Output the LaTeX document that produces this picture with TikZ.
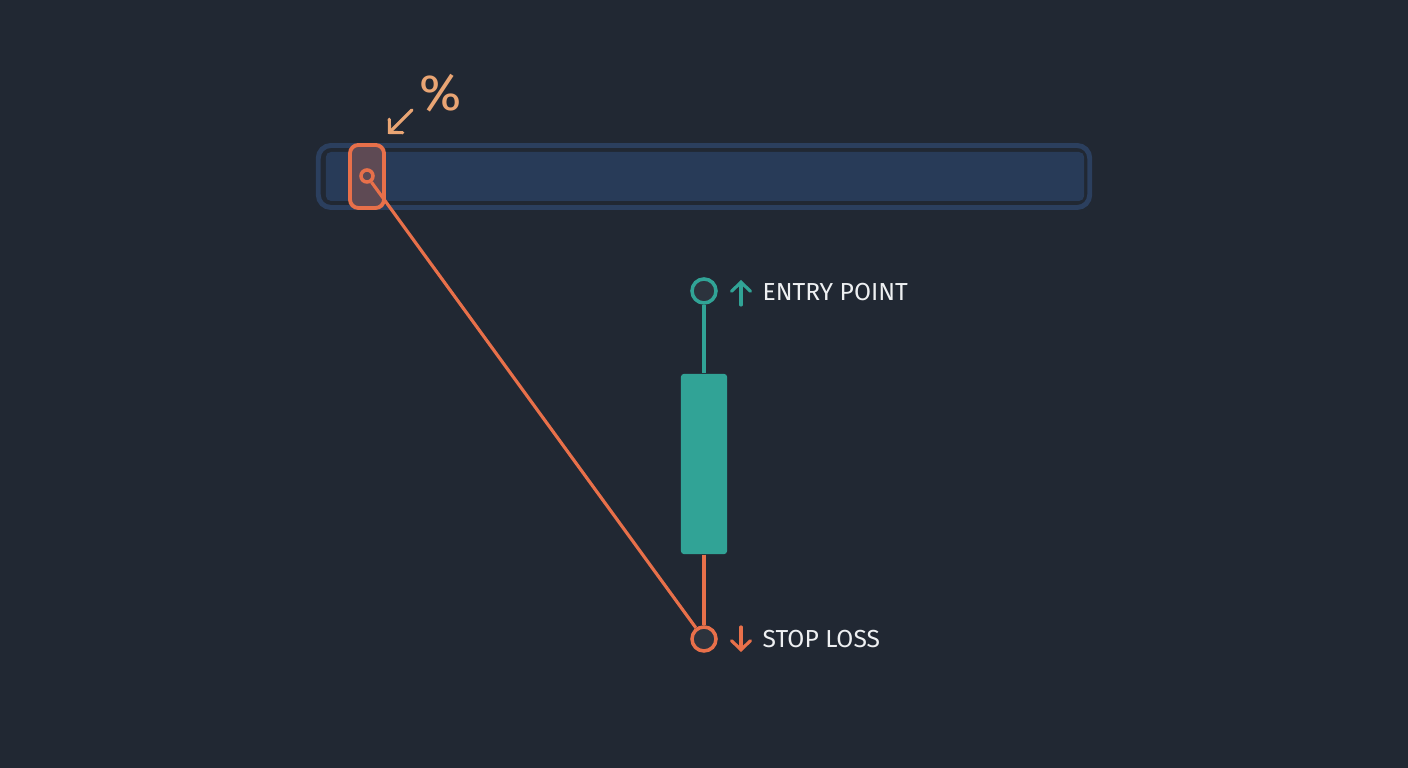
\documentclass[tikz,border=0pt]{standalone}
\usepackage{fontspec}
\setmainfont{Fira Sans}
\usetikzlibrary{positioning,arrows.meta,calc}
\definecolor{bgdark}{HTML}{212833}
\definecolor{trackline}{HTML}{2B3F5E}
\definecolor{trackfill}{HTML}{283B58}
\definecolor{coral}{HTML}{E8704A}
\definecolor{peach}{HTML}{E9A574}
\definecolor{tealc}{HTML}{31A396}
\definecolor{labeltxt}{HTML}{EEF0F2}

\begin{document}
\begin{tikzpicture}[
  x=0.01cm, y=-0.01cm,
  >={Straight Barb[length=2.6pt,width=5.4pt,line cap=round]},
  ring/.style={circle, draw, line width=1pt, fill=bgdark!95!white, minimum size=0.24cm, inner sep=0pt},
  wick/.style={line width=0.9pt},
  tag/.style={font=\fontsize{7}{8}\selectfont, text=labeltxt, anchor=west, inner sep=0pt},
  sig/.style={->, line width=0.9pt, line cap=round}
]
  \fill[bgdark] (0,0) rectangle (1408,768);
  \useasboundingbox (0,0) rectangle (1408,768);

  % progress track
  \node[draw=trackline, line width=1.4pt, rounded corners=3.6pt, minimum width=7.71cm,
        minimum height=0.62cm, inner sep=0pt] (track) at (704,176.5) {};
  \node[fill=trackfill, rounded corners=1.5pt, minimum width=7.58cm,
        minimum height=0.49cm, inner sep=0pt] (trackfill) at (705,176.5) {};
  \node[draw=coral, line width=1.1pt, fill=coral!28!trackfill, rounded corners=2.4pt,
        minimum width=0.34cm, minimum height=0.63cm, inner sep=0pt] (handle) at (367,176.5) {};
  \node[circle, draw=coral, line width=1pt, fill=coral!28!trackfill,
        minimum size=0.12cm, inner sep=0pt] (pin) at (367,176) {};

  % percent hint
  \node[text=peach, font=\fontsize{14.5}{16}\selectfont, inner sep=0pt] (pct) at (441,93) {\%};
  \coordinate (pcttail) at (412,110);
  \coordinate (pcthead) at (388,134);
  \draw[sig, peach] (pcttail) -- (pcthead);

  % candle
  \node[ring, draw=tealc] (entry) at (704,291) {};
  \node[fill=tealc, rounded corners=0.8pt, minimum width=0.46cm, minimum height=1.80cm,
        inner sep=0pt] (body) at (704,464) {};
  \node[ring, draw=coral] (stop) at (704,639) {};

  \draw[wick, tealc] (entry) -- (body);
  \draw[wick, coral] (body) -- (stop);
  \draw[wick, coral] (pin) -- (stop);

  % labels
  \coordinate (upfoot) at (741,305);
  \coordinate (uptip) at (741,280);
  \draw[sig, tealc] (upfoot) -- (uptip);
  \node[tag] (entrylbl) at (762,292) {ENTRY POINT};

  \coordinate (dnfoot) at (741,627);
  \coordinate (dntip) at (741,652);
  \draw[sig, coral] (dnfoot) -- (dntip);
  \node[tag] (stoplbl) at (762,639) {STOP LOSS};
\end{tikzpicture}
\end{document}
